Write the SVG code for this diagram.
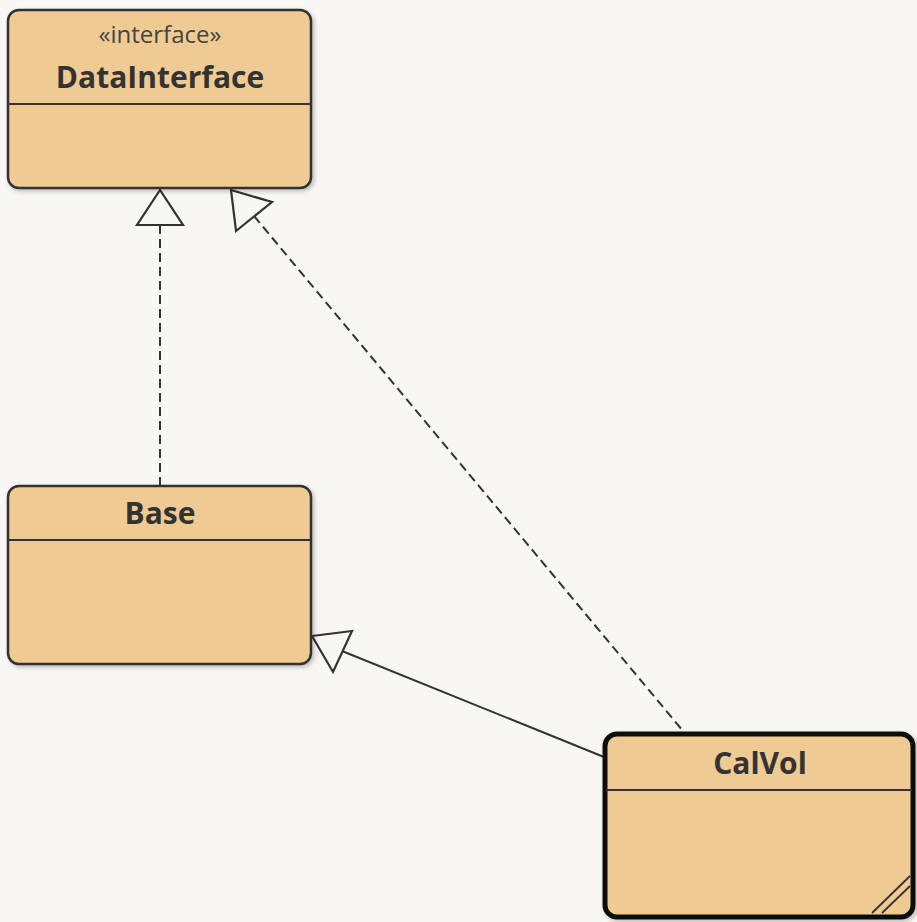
<svg xmlns="http://www.w3.org/2000/svg" width="917" height="922" viewBox="0 0 917 922">
<style>
.box{fill:#efca93;stroke:#333;stroke-width:2.5}
.div{stroke:#333;stroke-width:2}
.name{font-family:"Open Sans","Noto Sans",sans-serif;font-weight:bold;font-size:30px;fill:#333;text-anchor:middle}
.st{font-family:"Open Sans","Noto Sans",sans-serif;font-size:24px;fill:#444;text-anchor:middle}
.dash{fill:none;stroke:#333;stroke-width:2;stroke-dasharray:9,5}
.sol{fill:none;stroke:#333;stroke-width:2}
.head{fill:#f8f7f3;stroke:#333;stroke-width:2.2;stroke-linejoin:miter}
</style>
<defs>
<filter id="sh" x="-5%" y="-5%" width="115%" height="115%"><feDropShadow dx="2" dy="2" stdDeviation="2" flood-color="#000" flood-opacity="0.25"/></filter>
</defs>
<rect width="917" height="922" fill="#f8f7f3"/>
<g id="connectors">
<line class="dash" x1="160" y1="225" x2="160" y2="486"/>
<polygon class="head" points="160,190 137,225 183,225"/>
<line class="dash" x1="254" y1="216" x2="683" y2="731"/>
<polygon class="head" points="231,190 236,231 272,202"/>
<line class="sol" x1="342" y1="651" x2="604" y2="757"/>
<polygon class="head" points="312,636 352,631 333,672"/>
</g>
<g id="DataInterface">
<rect class="box" filter="url(#sh)" x="8" y="10" width="303" height="178" rx="11"/>
<line class="div" x1="8" y1="104" x2="311" y2="104"/>
<text class="st" x="160" y="43">«interface»</text>
<text class="name" x="160" y="88">DataInterface</text>
</g>
<g id="Base">
<rect class="box" filter="url(#sh)" x="8" y="486" width="303" height="178" rx="11"/>
<line class="div" x1="8" y1="540" x2="311" y2="540"/>
<text class="name" x="160" y="524">Base</text>
</g>
<g id="CalVol">
<rect class="box" filter="url(#sh)" x="605" y="734" width="308" height="183" rx="12" style="stroke:#111;stroke-width:5"/>
<line class="div" x1="606" y1="790" x2="912" y2="790"/>
<text class="name" x="760" y="774">CalVol</text>
<line x1="872" y1="913" x2="910" y2="876" stroke="#333" stroke-width="1.8"/>
<line x1="882" y1="913" x2="910" y2="886" stroke="#333" stroke-width="1.8"/>
</g>
</svg>
